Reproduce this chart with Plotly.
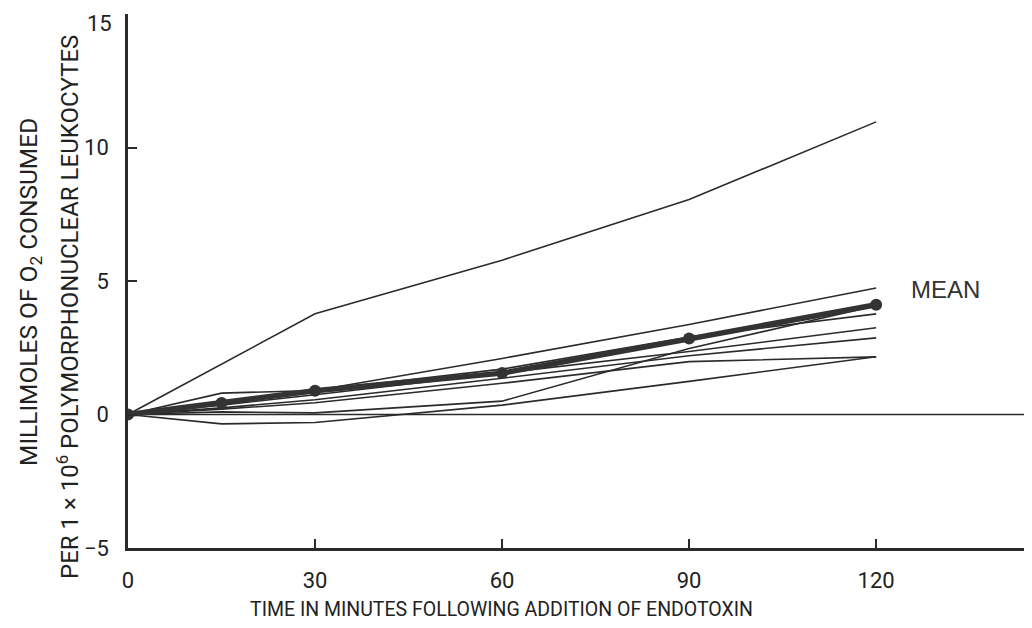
import plotly.graph_objects as go

# time points (minutes)
times = [0, 15, 30, 60, 90, 120]
times_top = [0, 30, 60, 90, 120]

# individual subjects (mmol O2 per 1e6 PMN)
subj_top = [0, 3.77, 5.78, 8.05, 10.96]
subj_b = [0, 0.8, 0.9, 2.1, 3.37, 4.74]
subj_d = [0, 0.4, 0.9, 1.7, 2.9, 3.77]
subj_e = [0, 0.35, 0.74, 1.55, 2.36, 3.25]
subj_f = [0, 0.25, 0.55, 1.36, 2.2, 2.87]
subj_g = [0, 0.1, 0.06, 0.5, 2.47, 4.07]
subj_h = [0, 0.2, 0.44, 1.17, 1.98, 2.16]
subj_c = [0, -0.35, -0.3, 0.35, 1.24, 2.16]

mean_vals = [0, 0.43, 0.89, 1.55, 2.85, 4.11]

baseline_x = [0, 145]
baseline_y = [0, 0]

x_ticks = [0, 30, 60, 90, 120]
y_ticks = [-5, 0, 5, 10, 15]
y_ticktext = ["\u22125", "0", "5", "10", ""]  # top label drawn separately
y_top_label = "15"

LINE = "#2b2b2b"
FONT_N = "Roboto, Liberation Sans, Arial, sans-serif"
FONT_M = "Liberation Sans, Arial, sans-serif"

OFF = 8  # page body margin
W, H = 1024, 620
L, R, T, B = 128 - OFF, 0, 14 - OFF, H - (548 - OFF)

fig = go.Figure()

fig.add_trace(go.Scatter(x=baseline_x, y=baseline_y, mode="lines",
                         line=dict(color=LINE, width=1.6), hoverinfo="skip"))
fig.add_trace(go.Scatter(x=times_top, y=subj_top, mode="lines",
                         line=dict(color=LINE, width=1.6)))
for s in [subj_b, subj_d, subj_e, subj_f, subj_g, subj_h, subj_c]:
    fig.add_trace(go.Scatter(x=times, y=s, mode="lines",
                             line=dict(color=LINE, width=1.6)))

fig.add_trace(go.Scatter(x=times, y=mean_vals, mode="lines+markers",
                         line=dict(color="#333333", width=5.5),
                         marker=dict(color="#333333", size=12)))

fig.update_layout(
    width=W, height=H,
    margin=dict(l=L, r=R, t=T, b=B, autoexpand=False),
    paper_bgcolor="white", plot_bgcolor="white",
    showlegend=False,
    font=dict(family=FONT_N, size=20, color="#222"),
    xaxis=dict(range=[0, 145], tickvals=x_ticks, showgrid=False, zeroline=False,
               showline=True, linecolor=LINE, linewidth=2.5, automargin=False,
               ticks="inside", ticklen=9, tickwidth=1.5, tickcolor=LINE,
               ticklabelstandoff=11, ticklabeloverflow="allow",
               tickfont=dict(family=FONT_N, size=22, color="#222")),
    yaxis=dict(range=[-5, 15], tickvals=y_ticks, ticktext=y_ticktext,
               showgrid=False, zeroline=False,
               showline=True, linecolor=LINE, linewidth=2.5, automargin=False,
               ticks="inside", ticklen=9, tickwidth=1.5, tickcolor=LINE,
               ticklabelstandoff=12, ticklabeloverflow="allow",
               tickfont=dict(family=FONT_N, size=22, color="#222")),
)

plot_w = W - L - R
plot_h = H - T - B


def px_to_paper(sx, sy):
    # screen pixel -> paper coords
    fx, fy = sx - OFF, sy - OFF
    return (fx - L) / plot_w, (H - B - fy) / plot_h


annots = []
ax_, ay_ = px_to_paper(114, 23)
annots.append(dict(text=y_top_label, x=ax_, y=ay_, xref="paper", yref="paper",
                   xanchor="right", yanchor="middle", showarrow=False,
                   font=dict(family=FONT_N, size=22, color="#222")))
ax_, ay_ = px_to_paper(909, 289)
annots.append(dict(text="MEAN", x=ax_, y=ay_, xref="paper", yref="paper",
                   xanchor="left", yanchor="middle", showarrow=False,
                   font=dict(family=FONT_M, size=24, color="#333")))
ax_, ay_ = px_to_paper(501, 609)
annots.append(dict(text="TIME IN MINUTES FOLLOWING ADDITION OF ENDOTOXIN",
                   x=ax_, y=ay_, xref="paper", yref="paper",
                   xanchor="center", yanchor="middle", showarrow=False,
                   font=dict(family=FONT_N, size=19.5, color="#222")))
ax_, ay_ = px_to_paper(30, 292)
annots.append(dict(text="MILLIMOLES OF O<sub>2</sub> CONSUMED",
                   x=ax_, y=ay_, xref="paper", yref="paper", textangle=-90,
                   xanchor="center", yanchor="middle", showarrow=False,
                   font=dict(family=FONT_N, size=24.5, color="#222")))
ax_, ay_ = px_to_paper(68, 307)
annots.append(dict(text="PER 1 \u00d7 10<sup>6</sup> POLYMORPHONUCLEAR LEUKOCYTES",
                   x=ax_, y=ay_, xref="paper", yref="paper", textangle=-90,
                   xanchor="center", yanchor="middle", showarrow=False,
                   font=dict(family=FONT_N, size=24, color="#222")))
fig.update_layout(annotations=annots)

fig.write_html("out.html")
